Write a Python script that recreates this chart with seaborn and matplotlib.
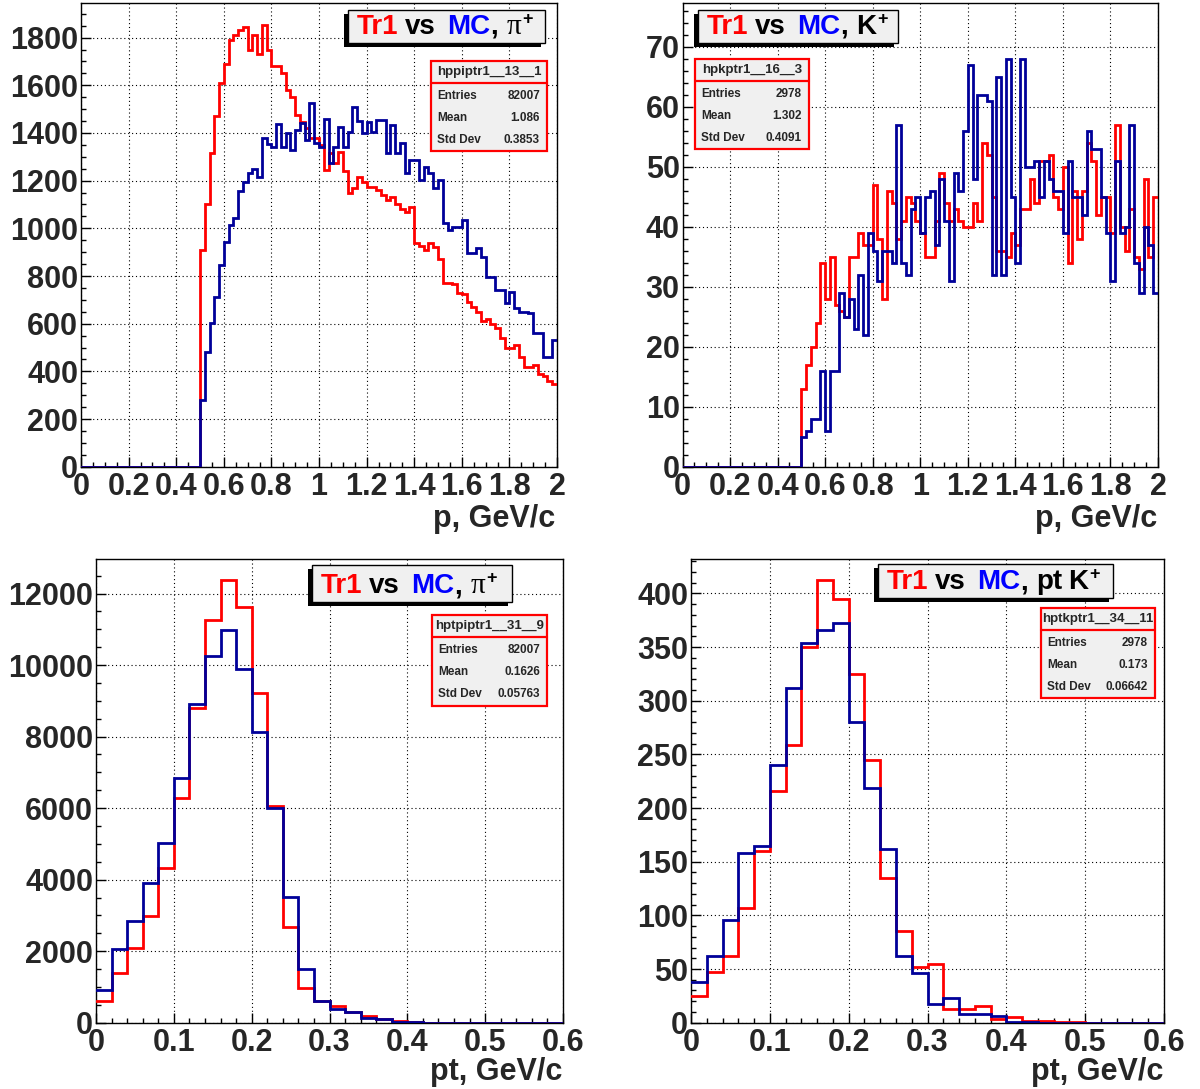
import numpy as np
import pandas as pd
import matplotlib
matplotlib.use("Agg")
import matplotlib.pyplot as plt
import seaborn as sns
from matplotlib.patches import Rectangle
from matplotlib.lines import Line2D
from matplotlib.ticker import MultipleLocator, FuncFormatter

# ---------------- data ----------------
# momentum histograms: 100 bins of 0.02 GeV/c from 0 to 2 (first 25 bins empty)
p_bin_width = 0.02
p_n_empty = 25
p_pi_tr1 = [910, 1100, 1315, 1470, 1610, 1690, 1790, 1810, 1830, 1845,
            1750, 1810, 1730, 1855, 1750, 1680, 1680, 1650, 1580, 1550,
            1475, 1445, 1420, 1380, 1380, 1350, 1245, 1315, 1275, 1320,
            1240, 1150, 1170, 1215, 1195, 1175, 1175, 1160, 1140, 1120,
            1130, 1100, 1080, 1070, 1090, 940, 925, 910, 940, 920,
            870, 770, 770, 765, 730, 725, 690, 670, 650, 610,
            620, 600, 580, 540, 500, 500, 510, 460, 420, 420,
            425, 390, 380, 360, 345]
p_pi_mc = [280, 483, 604, 713, 846, 944, 1014, 1042, 1158, 1196,
           1231, 1248, 1214, 1378, 1354, 1343, 1438, 1343, 1399, 1329,
           1413, 1441, 1371, 1525, 1357, 1343, 1457, 1273, 1343, 1424,
           1343, 1406, 1510, 1452, 1399, 1448, 1405, 1455, 1455, 1315,
           1433, 1315, 1357, 1231, 1287, 1287, 1203, 1259, 1231, 1168,
           1203, 1021, 993, 1007, 1007, 1035, 895, 895, 916, 881,
           797, 797, 741, 741, 685, 734, 664, 650, 650, 643,
           559, 559, 461, 461, 531]
p_k_tr1 = [13, 17, 20, 24, 34, 28, 35, 27, 26, 25,
           35, 35, 39, 37, 37, 47, 38, 28, 46, 44,
           38, 41, 45, 44, 41, 39, 35, 35, 41, 49,
           44, 41, 43, 41, 40, 40, 44, 41, 54, 52,
           45, 36, 36, 35, 39, 37, 43, 43, 48, 44,
           51, 51, 52, 45, 43, 50, 34, 46, 38, 46,
           54, 51, 42, 45, 45, 39, 57, 40, 36, 43,
           35, 33, 48, 35, 45]
p_k_mc = [5, 6, 8, 8, 16, 6, 16, 16, 29, 25,
          28, 23, 32, 22, 39, 36, 31, 36, 36, 34,
          57, 34, 32, 43, 45, 39, 45, 46, 37, 48,
          41, 31, 49, 46, 56, 67, 48, 62, 62, 61,
          32, 65, 32, 68, 45, 34, 68, 50, 50, 51,
          45, 51, 48, 46, 46, 39, 51, 45, 45, 42,
          56, 53, 53, 45, 39, 31, 51, 39, 40, 57,
          34, 29, 40, 37, 29]

# transverse momentum histograms: 30 bins of 0.02 GeV/c from 0 to 0.6
pt_bin_width = 0.02
pt_pi_tr1 = [615, 1379, 2096, 2981, 4313, 6288, 8813, 11254, 12372, 11626,
             9223, 6065, 2664, 978, 600, 455, 300, 190, 100, 60,
             15, 5, 5, 3, 2, 1, 1, 0, 0, 0]
pt_pi_mc = [913, 2050, 2841, 3894, 5012, 6829, 8925, 10248, 10993, 9903,
            8133, 6009, 3521, 1491, 620, 385, 290, 140, 90, 30,
            10, 5, 3, 2, 1, 1, 0, 0, 0, 0]
pt_k_tr1 = [25, 47, 62, 107, 160, 216, 259, 350, 412, 395,
            325, 245, 135, 85, 52, 55, 13, 13, 16, 3,
            5, 2, 2, 1, 1, 0, 0, 0, 0, 0]
pt_k_mc = [38, 62, 96, 158, 165, 240, 312, 354, 366, 372,
           280, 219, 162, 62, 46, 17, 23, 8, 8, 6,
           1, 1, 0, 0, 0, 0, 0, 0, 0, 0]

stat_names = ["hppiptr1__13__1", "hpkptr1__16__3", "hptpiptr1__31__9", "hptkptr1__34__11"]
stat_entries = ["82007", "2978", "82007", "2978"]
stat_means = ["1.086", "1.302", "0.1626", "0.173"]
stat_stds = ["0.3853", "0.4091", "0.05763", "0.06642"]
x_titles = ["p, GeV/c", "p, GeV/c", "pt, GeV/c", "pt, GeV/c"]

# ---------------- style ----------------
W, H = 1200, 1089
RED = "#ff0000"
BLUE = "#000099"
TITLE_BLUE = "#0000ff"
sns.set_theme(style="ticks")
plt.rcParams["font.family"] = ["Liberation Sans", "DejaVu Sans"]
plt.rcParams["font.weight"] = "bold"
plt.rcParams["axes.linewidth"] = 1.0
plt.rcParams["axes.edgecolor"] = "black"

fig = plt.figure(figsize=(W / 100, H / 100), dpi=100)
fig.patch.set_facecolor("white")


def fx(x):
    return x / W


def fy(y):
    return 1 - y / H


def fmt(v, pos):
    return "%g" % round(v, 6)


def panel(box, lo, width, n_empty, tr1, mc, xlim, ylim, xmaj, xmin, ymaj, ymin):
    l, t, r, b = box
    ax = fig.add_axes([fx(l), fy(b), (r - l) / W, (b - t) / H])
    tr1_full = [0] * n_empty + list(tr1)
    mc_full = [0] * n_empty + list(mc)
    n = len(tr1_full)
    edges = [lo + width * k for k in range(n + 1)]
    centers = [0.5 * (edges[k] + edges[k + 1]) for k in range(n)]
    for vals, col in ((tr1_full, RED), (mc_full, BLUE)):
        df = pd.DataFrame({"x": centers, "w": vals})
        sns.histplot(data=df, x="x", weights="w", bins=edges, element="step",
                     fill=False, color=col, linewidth=2.0, ax=ax,
                     solid_joinstyle="miter", zorder=3)
    ax.set_xlim(*xlim)
    ax.set_ylim(*ylim)
    ax.set_xlabel("")
    ax.set_ylabel("")
    ax.xaxis.set_major_locator(MultipleLocator(xmaj))
    ax.xaxis.set_minor_locator(MultipleLocator(xmin))
    ax.yaxis.set_major_locator(MultipleLocator(ymaj))
    ax.yaxis.set_minor_locator(MultipleLocator(ymin))
    ax.xaxis.set_major_formatter(FuncFormatter(fmt))
    ax.yaxis.set_major_formatter(FuncFormatter(fmt))
    ax.tick_params(which="both", direction="in", top=False, right=False,
                   color="black", width=1.0)
    ax.tick_params(which="major", length=7, labelsize=22, pad=2)
    ax.tick_params(which="minor", length=3.5)
    ax.tick_params(axis="x", which="major", pad=4)
    for lab in ax.get_xticklabels() + ax.get_yticklabels():
        lab.set_fontweight("bold")
    ax.grid(True, which="major", color="black", linestyle=(0, (1, 2.5)), linewidth=0.8)
    ax.set_axisbelow(True)
    for s in ax.spines.values():
        s.set_visible(True)
        s.set_color("black")
        s.set_linewidth(1.0)
    return ax


boxes = [(81, 3.3, 557, 466.7), (682.5, 3.3, 1158, 466.7),
         (96, 558.5, 563, 1022.7), (691, 559, 1164, 1022.7)]

panel(boxes[0], 0.0, p_bin_width, p_n_empty, p_pi_tr1, p_pi_mc,
      (0, 2), (0, 1944), 0.2, 0.05, 200, 50)
panel(boxes[1], 0.0, p_bin_width, p_n_empty, p_k_tr1, p_k_mc,
      (0, 2), (0, 77.2), 0.2, 0.05, 10, 2)
panel(boxes[2], 0.0, pt_bin_width, 0, pt_pi_tr1, pt_pi_mc,
      (0, 0.6), (0, 12980), 0.1, 0.02, 2000, 500)
panel(boxes[3], 0.0, pt_bin_width, 0, pt_k_tr1, pt_k_mc,
      (0, 0.6), (0, 432), 0.1, 0.02, 50, 10)

renderer = fig.canvas.get_renderer()


def title_box(l, t, r, b, particle_pieces):
    fig.add_artist(Rectangle((fx(l - 4), fy(b + 4)), (r - l) / W, (b - t) / H,
                             transform=fig.transFigure, facecolor="black",
                             edgecolor="none", zorder=5))
    fig.add_artist(Rectangle((fx(l), fy(b)), (r - l) / W, (b - t) / H,
                             transform=fig.transFigure, facecolor="#f0f0f0",
                             edgecolor="black", linewidth=1.0, zorder=6))
    base = b - 9
    x = l + 9
    pieces = [("Tr1", RED, 20, "Liberation Sans", "bold", 0, 6),
              ("vs", "black", 20, "Liberation Sans", "bold", 0, 12),
              ("MC", TITLE_BLUE, 20, "Liberation Sans", "bold", 0, 0),
              (",", "black", 20, "Liberation Sans", "bold", 0, 8)] + particle_pieces
    for s, col, size, fam, wt, dy, gap in pieces:
        tx = fig.text(fx(x), fy(base - dy), s, color=col, fontsize=size,
                      family=fam, weight=wt, ha="left", va="baseline", zorder=7)
        w = tx.get_window_extent(renderer).width
        x += w + gap


pi_pieces = [("\u03c0", "black", 21, "Liberation Serif", "normal", 0, 1),
             ("+", "black", 13, "Liberation Sans", "bold", 10, 0)]
k_pieces = [("K", "black", 20, "Liberation Sans", "bold", 0, 1),
            ("+", "black", 13, "Liberation Sans", "bold", 10, 0)]
ptk_pieces = [("pt", "black", 20, "Liberation Sans", "bold", 0, 6),
              ("K", "black", 20, "Liberation Sans", "bold", 0, 1),
              ("+", "black", 13, "Liberation Sans", "bold", 10, 0)]

title_box(348, 10, 545, 43, pi_pieces)
title_box(698, 10, 898, 43, k_pieces)
title_box(312, 565, 512, 602, pi_pieces)
title_box(878, 564, 1113, 598, ptk_pieces)


def stats_box(l, t, r, b, sep, i):
    fig.add_artist(Rectangle((fx(l), fy(b)), (r - l) / W, (b - t) / H,
                             transform=fig.transFigure, facecolor="#f0f0f0",
                             edgecolor=RED, linewidth=1.6, zorder=6))
    fig.add_artist(Line2D([fx(l), fx(r)], [fy(sep), fy(sep)], transform=fig.transFigure,
                          color=RED, linewidth=1.6, zorder=7))
    fig.text(fx((l + r) / 2), fy((t + sep) / 2), stat_names[i], ha="center", va="center",
             fontsize=9.5, weight="bold", zorder=8)
    rows = [("Entries", stat_entries[i]), ("Mean", stat_means[i]), ("Std Dev", stat_stds[i])]
    for k, (lab, val) in enumerate(rows):
        y = sep + 13 + 22 * k
        fig.text(fx(l + 6), fy(y), lab, ha="left", va="center", fontsize=8.5,
                 weight="bold", zorder=8)
        fig.text(fx(r - 7), fy(y), val, ha="right", va="center", fontsize=8.5,
                 weight="bold", zorder=8)


stats_box(431, 61, 547, 151, 83, 0)
stats_box(695, 59, 809, 149, 81, 1)
stats_box(432, 615, 547, 706, 637, 2)
stats_box(1041, 608, 1155, 698, 630, 3)

# axis titles
fig.text(fx(555), fy(527), x_titles[0], ha="right", va="baseline", fontsize=22, weight="bold")
fig.text(fx(1157), fy(527), x_titles[1], ha="right", va="baseline", fontsize=22, weight="bold")
fig.text(fx(562), fy(1080), x_titles[2], ha="right", va="baseline", fontsize=22, weight="bold")
fig.text(fx(1163), fy(1080), x_titles[3], ha="right", va="baseline", fontsize=22, weight="bold")

fig.savefig("out.png", dpi=100, facecolor="white")
